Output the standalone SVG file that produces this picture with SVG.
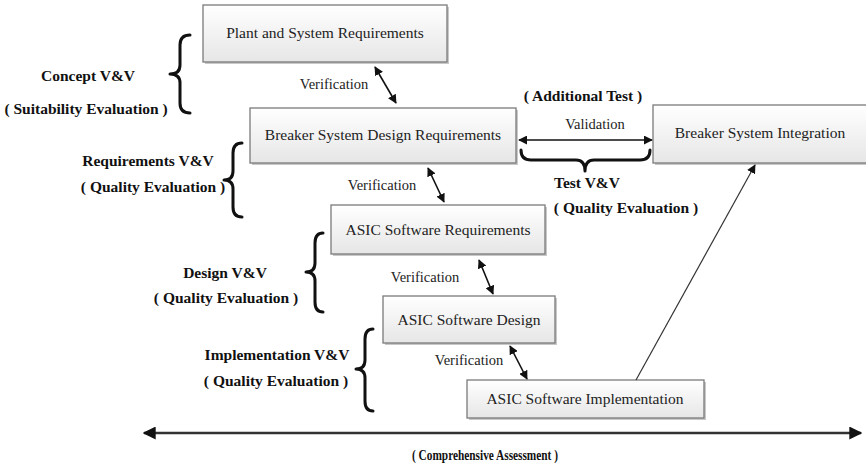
<svg xmlns="http://www.w3.org/2000/svg" width="866" height="468" viewBox="0 0 866 468">
  <defs>
    <linearGradient id="boxFill" x1="0" y1="0" x2="0" y2="1">
      <stop offset="0" stop-color="#ffffff"/>
      <stop offset="1" stop-color="#e6e6e6"/>
    </linearGradient>
    <marker id="head" viewBox="0 0 10 10" refX="9" refY="5" markerWidth="9" markerHeight="9" markerUnits="userSpaceOnUse" orient="auto-start-reverse">
      <path d="M0,0 L10,5 L0,10 z" fill="#111"/>
    </marker>
    <marker id="headBig" viewBox="0 0 10 10" refX="9" refY="5" markerWidth="13" markerHeight="13" markerUnits="userSpaceOnUse" orient="auto-start-reverse">
      <path d="M0,0 L10,5 L0,10 z" fill="#111"/>
    </marker>
  </defs>
  <style>
    .shadow { fill: #c8c8c8; }
    .box { fill: url(#boxFill); stroke: #7a7a7a; stroke-width: 1.3; }
    .node { font-family: "Liberation Serif", "Tinos", "DejaVu Serif", serif; font-size: 15.5px; fill: #222; text-anchor: middle; }
    .lbl { font-family: "Liberation Serif", "Tinos", "DejaVu Serif", serif; font-size: 14.5px; fill: #222; text-anchor: middle; }
    .bold { font-family: "Liberation Serif", "Tinos", "DejaVu Serif", serif; font-size: 15.5px; font-weight: bold; fill: #111; text-anchor: middle; }
    .brace { fill: none; stroke: #111; stroke-width: 3; stroke-linecap: round; stroke-linejoin: round; }
    .arrow { fill: none; stroke: #111; stroke-width: 1.6; marker-start: url(#head); marker-end: url(#head); }
  </style>

  <!-- process boxes -->
  <g id="plant">
    <rect class="shadow" x="205" y="7" width="244" height="57"/>
    <rect class="box" x="203" y="5" width="244" height="57"/>
    <text class="node" x="325" y="38">Plant and System Requirements</text>
  </g>
  <g id="breaker-design">
    <rect class="shadow" x="252" y="110" width="266" height="55"/>
    <rect class="box" x="250" y="108" width="266" height="55"/>
    <text class="node" x="383" y="140">Breaker System Design Requirements</text>
  </g>
  <g id="breaker-integration">
    <rect class="shadow" x="655" y="107" width="214" height="58"/>
    <rect class="box" x="653" y="105" width="214" height="58"/>
    <text class="node" x="760" y="138">Breaker System Integration</text>
  </g>
  <g id="asic-req">
    <rect class="shadow" x="333" y="207" width="214" height="49"/>
    <rect class="box" x="331" y="205" width="214" height="49"/>
    <text class="node" x="438" y="235">ASIC Software Requirements</text>
  </g>
  <g id="asic-design">
    <rect class="shadow" x="385" y="298" width="172" height="47"/>
    <rect class="box" x="383" y="296" width="172" height="47"/>
    <text class="node" x="469" y="325">ASIC Software Design</text>
  </g>
  <g id="asic-impl">
    <rect class="shadow" x="469" y="382" width="237" height="38"/>
    <rect class="box" x="467" y="380" width="237" height="38"/>
    <text class="node" x="585" y="404">ASIC Software Implementation</text>
  </g>

  <!-- V&V braces and their labels -->
  <g id="concept-vv">
    <path class="brace" d="M190,35 Q180,35 180,45 L180,65 Q180,74 170,74 Q180,74 180,83 L180,103 Q180,113 190,113"/>
    <text class="bold" x="88" y="81">Concept V&amp;V</text>
    <text class="bold" x="86" y="114">( Suitability Evaluation )</text>
  </g>
  <g id="requirements-vv">
    <path class="brace" d="M242,143 Q233,143 233,153 L233,171 Q233,180 224,180 Q233,180 233,189 L233,207 Q233,217 242,217"/>
    <text class="bold" x="148" y="166">Requirements V&amp;V</text>
    <text class="bold" x="153" y="192">( Quality Evaluation )</text>
  </g>
  <g id="design-vv">
    <path class="brace" d="M323,233 Q315,233 315,243 L315,263 Q315,272 306,272 Q315,272 315,281 L315,302 Q315,312 323,312"/>
    <text class="bold" x="225" y="278">Design V&amp;V</text>
    <text class="bold" x="226" y="303">( Quality Evaluation )</text>
  </g>
  <g id="implementation-vv">
    <path class="brace" d="M373,329 Q365,329 365,339 L365,360 Q365,369 356,369 Q365,369 365,378 L365,401 Q365,411 373,411"/>
    <text class="bold" x="277" y="360">Implementation V&amp;V</text>
    <text class="bold" x="276" y="386">( Quality Evaluation )</text>
  </g>
  <g id="test-vv">
    <path class="brace" d="M521,150 Q521,160 531,160 L576,160 Q585,160 585,171 Q585,160 594,160 L640,160 Q650,160 650,150"/>
    <text class="bold" x="583" y="101">( Additional Test )</text>
    <text class="bold" x="587" y="188">Test V&amp;V</text>
    <text class="bold" x="626" y="213">( Quality Evaluation )</text>
  </g>

  <!-- connectors -->
  <g id="connectors">
    <line class="arrow" x1="375" y1="67" x2="396" y2="103"/>
    <text class="lbl" x="334" y="89">Verification</text>
    <line class="arrow" x1="428" y1="168" x2="444" y2="202"/>
    <text class="lbl" x="382" y="190">Verification</text>
    <line class="arrow" x1="479" y1="260" x2="493" y2="294"/>
    <text class="lbl" x="425" y="282">Verification</text>
    <line class="arrow" x1="510" y1="346" x2="527" y2="379"/>
    <text class="lbl" x="469" y="365">Verification</text>
    <line class="arrow" x1="519" y1="140" x2="652" y2="140"/>
    <text class="lbl" x="595" y="129">Validation</text>
    <line x1="636" y1="380" x2="755" y2="165" stroke="#333" stroke-width="1.2" marker-end="url(#head)"/>
    <line x1="144" y1="433" x2="861" y2="433" stroke="#333" stroke-width="2.6" marker-start="url(#headBig)" marker-end="url(#headBig)"/>
    <text class="bold" x="485" y="460" font-size="15" textLength="146" lengthAdjust="spacingAndGlyphs">( Comprehensive Assessment )</text>
  </g>
</svg>
